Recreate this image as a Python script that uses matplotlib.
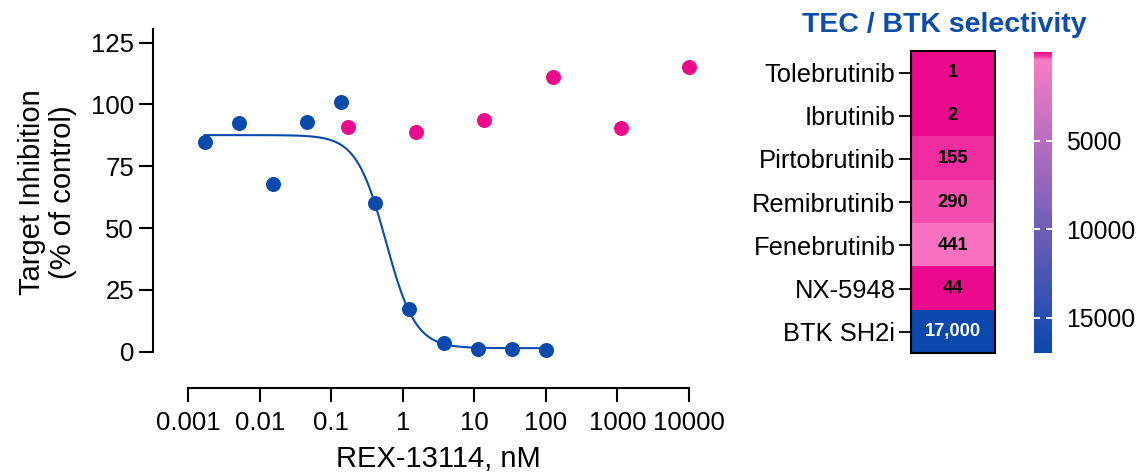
import numpy as np
import matplotlib
matplotlib.use("Agg")
import matplotlib.pyplot as plt
from matplotlib.colors import LinearSegmentedColormap, Normalize

plt.rcParams['font.family'] = ['Liberation Sans', 'DejaVu Sans']

# Dose-response data (REX-13114, nM)
btk_conc = [0.00169, 0.00508, 0.0152, 0.0457, 0.137, 0.412, 1.23, 3.70, 11.1, 33.3, 100]
btk_inhib = [85.0, 92.4, 67.7, 93.0, 101.1, 60.0, 17.1, 3.4, 1.0, 1.0, 0.5]
tec_conc = [0.169, 1.52, 13.7, 123.5, 1111, 10000]
tec_inhib = [90.9, 88.7, 93.7, 111.1, 90.6, 115.0]

# Four-parameter logistic fit for the BTK series
FIT_TOP, FIT_BOTTOM, FIT_IC50, FIT_HILL = 87.6, 1.4, 0.58, 2.1

# Selectivity heatmap
compounds = ['Tolebrutinib', 'Ibrutinib', 'Pirtobrutinib', 'Remibrutinib',
             'Fenebrutinib', 'NX-5948', 'BTK SH2i']
selectivity = [1, 2, 155, 290, 441, 44, 17000]
sel_labels = ['1', '2', '155', '290', '441', '44', '17,000']

x_ticks = [0.001, 0.01, 0.1, 1, 10, 100, 1000, 10000]
x_ticklabels = ['0.001', '0.01', '0.1', '1', '10', '100', '1000', '10000']
y_ticks = [0, 25, 50, 75, 100, 125]
cbar_ticks = [5000, 10000, 15000]

BLUE = '#0A4AAC'
MAGENTA = '#EC0A8C'

W, H = 1140, 473
fig = plt.figure(figsize=(W / 100, H / 100), dpi=100)


def rect(x0, y0, x1, y1):
    return [x0 / W, 1 - y1 / H, (x1 - x0) / W, (y1 - y0) / H]


# ---- dose-response panel ----
ax = fig.add_axes(rect(152.7, 29.3, 692.6, 387.7))
ax.set_xscale('log')
ax.set_xlim(10 ** -3.497, 10 ** 4.05)
ax.set_ylim(-14.6, 130.4)

xs = np.logspace(np.log10(btk_conc[0]), np.log10(btk_conc[-1]), 300)
fit = FIT_BOTTOM + (FIT_TOP - FIT_BOTTOM) / (1 + (xs / FIT_IC50) ** FIT_HILL)
ax.plot(xs, fit, color=BLUE, lw=1.5, zorder=2)
ax.plot(btk_conc, btk_inhib, 'o', color=BLUE, ms=10.8, mec='none', zorder=3, clip_on=False)
ax.plot(tec_conc, tec_inhib, 'o', color=MAGENTA, ms=10.8, mec='none', zorder=3, clip_on=False)

for s in ['top', 'right']:
    ax.spines[s].set_visible(False)
for s in ['left', 'bottom']:
    ax.spines[s].set_linewidth(1.5)
ax.spines['left'].set_bounds(0, 130.4)
ax.spines['bottom'].set_bounds(x_ticks[0], x_ticks[-1])

ax.set_xticks(x_ticks)
ax.set_xticklabels(x_ticklabels)
ax.xaxis.set_minor_locator(matplotlib.ticker.NullLocator())
ax.set_yticks(y_ticks)
ax.tick_params(axis='x', length=10, width=1.5, pad=6.5, labelsize=18.5)
ax.tick_params(axis='y', length=10, width=1.5, pad=3.5, labelsize=18.5)

fig.text(438.7 / W, 1 - 459 / H, 'REX-13114, nM', ha='center', va='center', fontsize=21)
fig.text(47.5 / W, 1 - 191.7 / H, 'Target Inhibition\n(% of control)', ha='center',
         va='center', rotation=90, fontsize=21, linespacing=1.15, multialignment='center')

# ---- selectivity heatmap ----
cmap = LinearSegmentedColormap.from_list(
    'tec_btk', [(0.0, MAGENTA), (441 / 17000, '#F87CC6'), (1.0, '#0B48AE')])
norm = Normalize(vmin=0, vmax=17000)

hax = fig.add_axes(rect(910.7, 51, 995.3, 353.3))
im = hax.imshow(np.array(selectivity).reshape(-1, 1), cmap=cmap, norm=norm, aspect='auto',
                interpolation='nearest')
hax.set_xticks([])
hax.set_yticks(range(len(compounds)))
hax.set_yticklabels(compounds, fontsize=18.4)
hax.tick_params(axis='y', length=9, width=1.3, pad=2)
for s in hax.spines.values():
    s.set_linewidth(1.5)
for i, lab in enumerate(sel_labels):
    hax.text(0, i, lab, ha='center', va='center', fontsize=13.2, fontweight='bold',
             color='white' if selectivity[i] > 5000 else 'black')
hax.set_title('TEC / BTK selectivity', fontsize=20.5, fontweight='bold', color='#0B4DA8',
              x=(944.2 - 910.7) / 84.6, pad=14)

cax = fig.add_axes(rect(1034, 52, 1052.3, 353))
cb = fig.colorbar(im, cax=cax)
cb.outline.set_visible(False)
cax.invert_yaxis()
cb.set_ticks(cbar_ticks)
cax.tick_params(axis='y', direction='in', colors='white', left=True, right=True,
                length=4.5, width=1.3, labelsize=17.8, labelcolor='black', pad=10)
cax.minorticks_off()

fig.savefig('out.png', dpi=100)
